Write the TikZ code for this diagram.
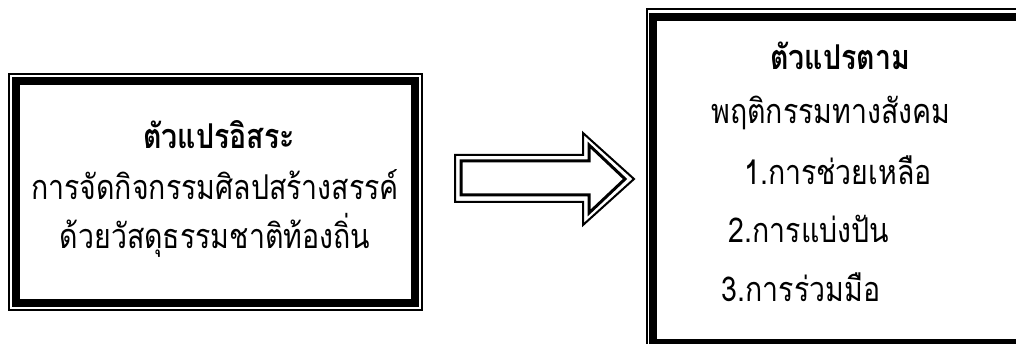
\documentclass[tikz,border=0pt]{standalone}
\usepackage{graphicx}
\usepackage{fontspec}
\newfontfamily\thai[Script=Thai]{Loma}
\newcommand{\tall}[1]{\scalebox{1}[1.2]{#1}}
\begin{document}
\begin{tikzpicture}[x=1pt,y=-1pt,
  thinline/.style={draw=black,line width=2pt},
  thickline/.style={draw=black,line width=8pt},
  arrowout/.style={draw=black,line width=2pt,line join=miter},
  arrowin/.style={draw=black,line width=3pt,line join=miter},
  title/.style={font=\thai\bfseries\fontsize{28.5}{32}\selectfont,inner sep=0pt},
  body/.style={font=\thai\fontsize{28.5}{32}\selectfont,inner sep=0pt}]
\useasboundingbox (0,0) rectangle (1016,344);
\begin{scope}
\clip (0,0) rectangle (1016,344);
% left box
\coordinate (L1) at (9,74);
\coordinate (L2) at (422,310);
\coordinate (L3) at (16,81);
\coordinate (L4) at (414.5,303);
\draw[thinline] (L1) rectangle (L2);
\draw[thickline] (L3) rectangle (L4);
% right box
\coordinate (R1) at (646.5,9.5);
\coordinate (R2) at (1027,350);
\coordinate (R3) at (653,17);
\coordinate (R4) at (1020,343);
\draw[thinline] (R1) rectangle (R2);
\draw[thickline] (R3) rectangle (R4);
\end{scope}
% arrow
\draw[arrowout] (455,155) -- (583,155) -- (583,133) -- (634,179) -- (583,225) -- (583,202) -- (455,202) -- cycle;
\draw[arrowin] (461,161) -- (589,161) -- (589,145) -- (625,179) -- (589,213) -- (589,195) -- (461,195) -- cycle;
% left texts
\node[title] (lt) at (219,135) {\tall{ตัวแปรอิสระ}};
\node[body] (l1) at (215,185) {\tall{การจัดกิจกรรมศิลปสร้างสรรค์}};
\node[body] (l2) at (215,235) {\tall{ด้วยวัสดุธรรมชาติท้องถิ่น}};
% right texts
\node[title] (rt) at (840,56) {\tall{ตัวแปรตาม}};
\node[body] (r1) at (831,113) {\tall{พฤติกรรมทางสังคม}};
\node[body] (r2) at (838,170) {\tall{1.การช่วยเหลือ}};
\node[body] (r3) at (809,229) {\tall{2.การแบ่งปัน}};
\node[body] (r4) at (801,287) {\tall{3.การร่วมมือ}};
\end{tikzpicture}
\end{document}
